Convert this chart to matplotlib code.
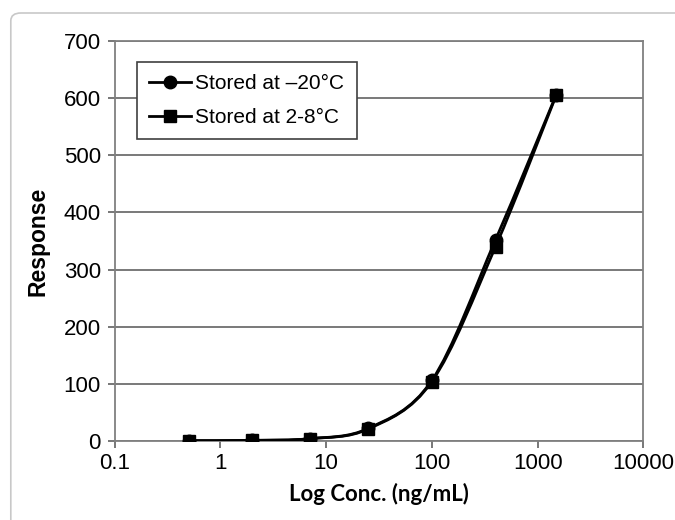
import numpy as np
import matplotlib.pyplot as plt
from matplotlib.path import Path
from matplotlib.patches import PathPatch, FancyBboxPatch
from matplotlib.lines import Line2D

# values
conc = [0.5, 2, 7, 25, 100, 400, 1500]
resp_minus20 = [0.5, 1, 4, 22, 106, 352, 606]
resp_2to8 = [0.5, 1, 4, 21, 104, 340, 605]
series_labels = ["Stored at \u201320\u00b0C", "Stored at 2-8\u00b0C"]
y_ticks = [0, 100, 200, 300, 400, 500, 600, 700]
x_ticks = [0.1, 1, 10, 100, 1000, 10000]
x_ticklabels = ["0.1", "1", "10", "100", "1000", "10000"]


def smooth_path(xs, ys):
    # catmull-rom style bezier in log-x space (like excel "smoothed line")
    u = np.log10(np.asarray(xs, float))
    v = np.asarray(ys, float)
    n = len(u)
    verts = [(xs[0], ys[0])]
    codes = [Path.MOVETO]
    for i in range(n - 1):
        i0 = max(i - 1, 0)
        i3 = min(i + 2, n - 1)
        c1u = u[i] + (u[i + 1] - u[i0]) / 6
        c1v = v[i] + (v[i + 1] - v[i0]) / 6
        c2u = u[i + 1] - (u[i3] - u[i]) / 6
        c2v = v[i + 1] - (v[i3] - v[i]) / 6
        verts += [(10 ** c1u, c1v), (10 ** c2u, c2v), (xs[i + 1], ys[i + 1])]
        codes += [Path.CURVE4] * 3
    return Path(verts, codes)


plt.rcParams['font.family'] = ['Liberation Sans', 'DejaVu Sans']

fig = plt.figure(figsize=(6.75, 5.2), dpi=100)
fig.patch.set_facecolor('white')

# light rounded frame around the chart
frame = FancyBboxPatch((0.016, -0.05), 1.1, 1.025,
                       boxstyle="round,pad=0,rounding_size=0.015",
                       transform=fig.transFigure, facecolor='none',
                       edgecolor='#c8c8c8', linewidth=1.2, zorder=-10)
fig.patches.append(frame)

ax = fig.add_axes([0.170, 0.152, 0.783, 0.769])
ax.set_xscale('log')
ax.set_xlim(0.1, 10000)
ax.set_ylim(0, 700)

ax.set_yticks(y_ticks)
ax.set_xticks(x_ticks)
ax.set_xticklabels(x_ticklabels)
ax.minorticks_off()
ax.tick_params(axis='both', labelsize=16, length=5, width=1.2, color='#606060', direction='out')
ax.tick_params(axis='x', pad=4)
ax.tick_params(axis='y', pad=5)
ax.grid(axis='y', color='#6e6e6e', linewidth=1.3)
ax.set_axisbelow(True)
for s in ax.spines.values():
    s.set_color('#808080')
    s.set_linewidth(1.3)

for ys in [resp_minus20, resp_2to8]:
    ax.add_patch(PathPatch(smooth_path(conc, ys), fill=False, edgecolor='black', linewidth=2.0, zorder=3))

ax.plot(conc, resp_minus20, linestyle='none', marker='o', markersize=9, color='black', zorder=4)
ax.plot(conc, resp_2to8, linestyle='none', marker='s', markersize=8.5, color='black', zorder=5)

handles = [Line2D([], [], color='black', linewidth=2.0, marker='o', markersize=9),
           Line2D([], [], color='black', linewidth=2.0, marker='s', markersize=8.5)]
leg = ax.legend(handles, series_labels, loc='upper left', bbox_to_anchor=(0.042, 0.948),
                fontsize=15, fancybox=False, framealpha=1, edgecolor='#404040',
                handlelength=2.0, handletextpad=0.2, borderpad=0.6, labelspacing=0.7,
                borderaxespad=0)
leg.get_frame().set_linewidth(1.2)

ax.set_ylabel('Response', fontsize=16.5, fontweight='bold', labelpad=10)
ax.set_xlabel('Log Conc. (ng/mL)', fontsize=16, fontweight='bold', family=['Lato', 'DejaVu Sans'], labelpad=6)

fig.savefig('out.png', dpi=100)
